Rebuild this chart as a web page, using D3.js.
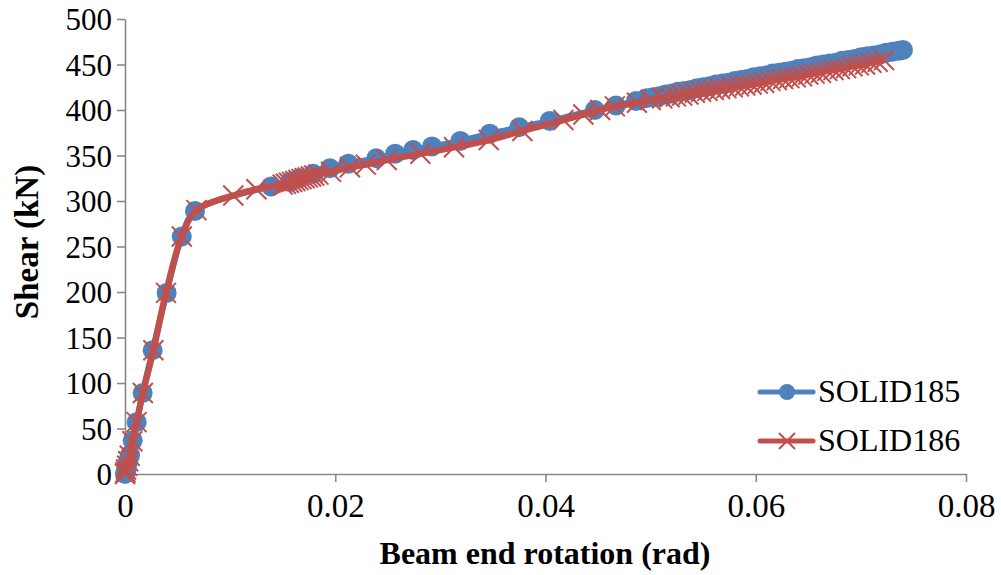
<!DOCTYPE html>
<html><head><meta charset="utf-8">
<script src="https://cdn.jsdelivr.net/npm/d3@7"></script>
<style>body{margin:0;background:#fff}svg{display:block}text{font-family:"Liberation Serif","Times New Roman",serif;fill:#000}</style>
</head><body><svg id="c" width="1001" height="575"></svg>
<script>
const xTicks = [0, 0.02, 0.04, 0.06, 0.08];
const xTickLabels = ["0", "0.02", "0.04", "0.06", "0.08"];
const yTicks = [0, 50, 100, 150, 200, 250, 300, 350, 400, 450, 500];
const seriesNames = ["SOLID185", "SOLID186"];

const solid185X = [0, 0.00005, 0.0001, 0.00016, 0.00025, 0.00035, 0.00048, 0.00073, 0.00111, 0.00168, 0.00263, 0.00396, 0.0054, 0.00666,
  0.0139, 0.0157, 0.0166, 0.0179, 0.0195, 0.02125, 0.0239, 0.0257, 0.0274, 0.0292, 0.0319, 0.0347, 0.0375, 0.0404, 0.0447, 0.0467, 0.0486,
  0.0496, 0.0502, 0.0508, 0.0514, 0.0520, 0.0526, 0.0532, 0.0538, 0.0544, 0.0550, 0.0556, 0.0562, 0.0568, 0.0574, 0.0580, 0.0586, 0.0592,
  0.0598, 0.0604, 0.0610, 0.0616, 0.0622, 0.0628, 0.0634, 0.0640, 0.0646, 0.0652, 0.0658, 0.0664, 0.0670, 0.0676, 0.0682, 0.0688, 0.0694,
  0.0700, 0.0706, 0.0712, 0.0718, 0.0724, 0.0730, 0.0736, 0.0740];
const solid185Y = [0, 2, 4, 8, 12, 16, 21, 37, 57, 89, 136, 199, 261, 289,
  316, 321, 325, 330, 336, 341, 347, 352, 356, 360, 366, 374, 381, 388, 400, 405, 410,
  413, 414, 415, 417, 418, 420, 421, 422, 424, 425, 426, 428, 429, 430, 432, 433, 434,
  436, 437, 438, 440, 441, 442, 443, 445, 446, 447, 449, 450, 451, 452, 454, 455, 456,
  458, 459, 460, 461, 463, 464, 465, 466];

const solid186X = [0, 0.00005, 0.0001, 0.0002, 0.0003, 0.00045, 0.0007, 0.0011, 0.0017, 0.0027, 0.0039, 0.0054, 0.0068, 0.0103, 0.0125,
  0.0150, 0.0153, 0.0156, 0.0159, 0.0162, 0.0165, 0.0168, 0.0171, 0.0174, 0.0177, 0.0180, 0.0184,
  0.0196, 0.0214, 0.0229, 0.0249, 0.0281, 0.0313, 0.0346, 0.0378, 0.0417, 0.0436, 0.0452, 0.0466, 0.0487, 0.0500, 0.0511,
  0.0518, 0.0524, 0.0530, 0.0536, 0.0542, 0.0548, 0.0554, 0.0560, 0.0566, 0.0572, 0.0578, 0.0584, 0.0590, 0.0596, 0.0602,
  0.0608, 0.0614, 0.0620, 0.0626, 0.0632, 0.0638, 0.0644, 0.0650, 0.0656, 0.0662, 0.0668, 0.0674, 0.0680, 0.0686, 0.0692,
  0.0698, 0.0704, 0.0710, 0.0716, 0.0722];
const solid186Y = [0, 2, 5, 9, 14, 20, 36, 57, 89, 136, 199, 261, 290, 306, 313,
  318, 319, 320, 321, 322, 323, 324, 325, 326, 327, 328, 329,
  332, 337, 340, 345, 352, 359, 367, 377, 389, 395, 400, 404, 408, 411, 413,
  414, 415, 416, 417, 419, 420, 421, 422, 423, 424, 425, 426, 427, 428, 429,
  430, 432, 433, 434, 435, 436, 437, 439, 440, 441, 443, 444, 445, 446, 448,
  449, 450, 452, 453, 455];

const blue = "#4F81BD", red = "#C0504D", axisGray = "#898989";
const svg = d3.select("#c");
const x = d3.scaleLinear().domain([0, 0.08]).range([125, 966]);
const y = d3.scaleLinear().domain([0, 500]).range([474, 19]);

// axes
const xAxis = svg.append("g").attr("transform", "translate(0,474)")
  .call(d3.axisBottom(x).tickValues(xTicks).tickFormat((d, i) => xTickLabels[i]).tickSizeInner(8).tickSizeOuter(0).tickPadding(10));
const yAxis = svg.append("g").attr("transform", "translate(125,0)")
  .call(d3.axisLeft(y).tickValues(yTicks).tickSizeInner(8).tickSizeOuter(0).tickPadding(5));
[xAxis, yAxis].forEach(g => {
  g.select(".domain").attr("stroke", axisGray).attr("stroke-width", 1.6);
  g.selectAll(".tick line").attr("stroke", axisGray).attr("stroke-width", 1.6);
  g.selectAll(".tick text").attr("fill", "#000");
});
xAxis.selectAll(".tick text").style("font-size", "33px").attr("dy", "0.75em");
yAxis.selectAll(".tick text").style("font-size", "31px").attr("dy", "0.34em");

// titles
svg.append("text").attr("x", 545).attr("y", 564).attr("text-anchor", "middle")
  .style("font-size", "32px").style("font-weight", "bold").text("Beam end rotation (rad)");
svg.append("text").attr("transform", "translate(38,242) rotate(-90)").attr("text-anchor", "middle")
  .style("font-size", "33px").style("font-weight", "bold").text("Shear (kN)");

const d185 = solid185X.map((v, i) => [v, solid185Y[i]]);
const d186 = solid186X.map((v, i) => [v, solid186Y[i]]);
const line = d3.line().x(d => x(d[0])).y(d => y(d[1])).curve(d3.curveCatmullRom.alpha(0.5));

const plot = svg.append("g");
plot.append("path").datum(d185).attr("d", line).attr("fill", "none").attr("stroke", blue).attr("stroke-width", 6).attr("stroke-linejoin", "round");
plot.selectAll("circle.s185").data(d185).join("circle").attr("class", "s185")
  .attr("cx", d => x(d[0])).attr("cy", d => y(d[1])).attr("r", 10).attr("fill", blue);

plot.append("path").datum(d186).attr("d", line).attr("fill", "none").attr("stroke", red).attr("stroke-width", 6.5).attr("stroke-linejoin", "round");
const xs = 10;
plot.selectAll("path.s186").data(d186).join("path").attr("class", "s186")
  .attr("d", d => { const cx = x(d[0]), cy = y(d[1]); return `M${cx-xs},${cy-xs}L${cx+xs},${cy+xs}M${cx-xs},${cy+xs}L${cx+xs},${cy-xs}`; })
  .attr("stroke", red).attr("stroke-width", 2).attr("fill", "none");

// legend
const legend = svg.append("g");
const legY = [392, 441];
seriesNames.forEach((name, i) => {
  const col = i === 0 ? blue : red;
  legend.append("line").attr("x1", 760).attr("x2", 813).attr("y1", legY[i]).attr("y2", legY[i])
    .attr("stroke", col).attr("stroke-width", 5).attr("stroke-linecap", "round");
  if (i === 0) {
    legend.append("circle").attr("cx", 787).attr("cy", legY[i]).attr("r", 8).attr("fill", col);
  } else {
    const s = 8;
    legend.append("path").attr("d", `M${787-s},${legY[i]-s}L${787+s},${legY[i]+s}M${787-s},${legY[i]+s}L${787+s},${legY[i]-s}`)
      .attr("stroke", col).attr("stroke-width", 2);
  }
  legend.append("text").attr("x", 818).attr("y", legY[i] + 10).style("font-size", "32px").text(name);
});
</script></body></html>
